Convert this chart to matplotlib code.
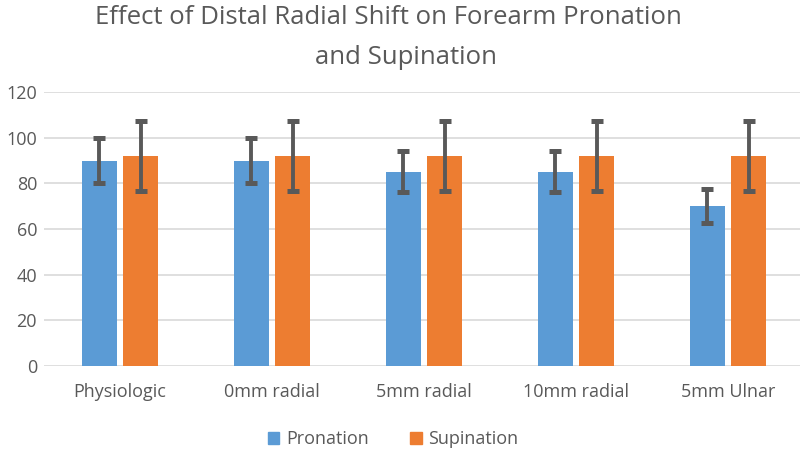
import numpy as np
import matplotlib
matplotlib.use("Agg")
from matplotlib import pyplot as plt
from matplotlib.patches import Patch

categories = ["Physiologic", "0mm radial", "5mm radial", "10mm radial", "5mm Ulnar"]
pronation = [90, 90, 85, 85, 70]
pronation_err = [10, 10, 9, 9, 7.5]
supination = [92, 92, 92, 92, 92]
supination_err = [15.5, 15.5, 15.5, 15.5, 15.5]
yticks = [0, 20, 40, 60, 80, 100, 120]

blue = "#5B9BD5"
orange = "#ED7D31"
grey = "#595959"
textc = "#595959"

plt.rcParams['font.family'] = ['Open Sans', 'DejaVu Sans']

fig = plt.figure(figsize=(8, 4.53), dpi=100)
ax = fig.add_axes([44/800, 87/453, 760/800, 274/453])

x = np.arange(len(categories))
w = 0.23
gap = 0.045
ekw = dict(ecolor=grey, elinewidth=2.8, capsize=4, capthick=3.6)
ax.bar(x - (w + gap)/2, pronation, w, color=blue, yerr=pronation_err,
       error_kw=ekw, zorder=3)
ax.bar(x + (w + gap)/2, supination, w, color=orange, yerr=supination_err,
       error_kw=ekw, zorder=3)

ax.set_xlim(-0.5, len(categories) - 0.5)
ax.set_ylim(0, 120)
ax.set_yticks(yticks)
ax.set_xticks(x)
ax.set_xticklabels(categories)
ax.grid(axis='y', color='#D9D9D9', linewidth=1.2, zorder=0)
for s in ax.spines.values():
    s.set_visible(False)
ax.tick_params(axis='both', length=0, labelsize=13, labelcolor=textc)
ax.tick_params(axis='x', pad=12)
ax.tick_params(axis='y', pad=5)

fig.text(388/800, 1 - 24/453, "Effect of Distal Radial Shift on Forearm Pronation",
         ha='center', va='baseline', fontsize=18.5, color=textc)
fig.text(406/800, 1 - 64/453, "and Supination",
         ha='center', va='baseline', fontsize=18.5, color=textc)

handles = [Patch(color=blue, label="Pronation"), Patch(color=orange, label="Supination")]
fig.legend(handles=handles, loc='center', bbox_to_anchor=(393/800, 1 - 439/453),
           ncol=2, frameon=False, fontsize=13, labelcolor=textc,
           handlelength=0.65, handleheight=0.65, handletextpad=0.35, columnspacing=2.3)

fig.savefig("out.png", dpi=100)
